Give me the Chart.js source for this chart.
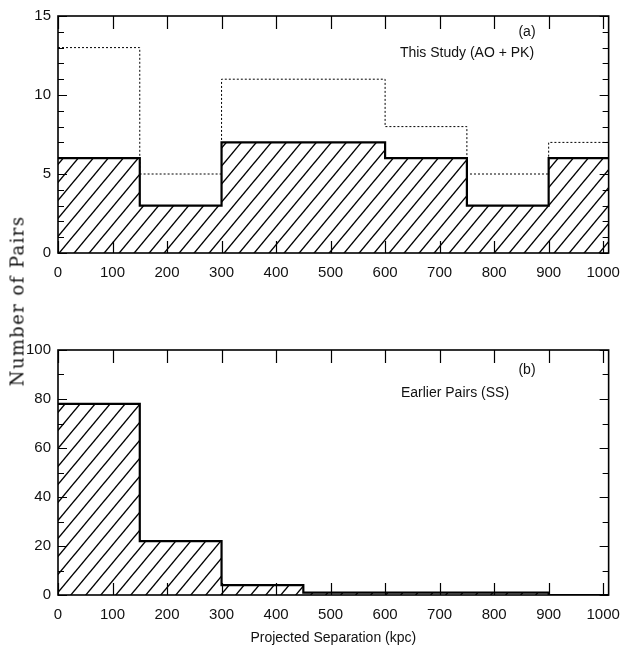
<!DOCTYPE html>
<html>
<head>
<meta charset="utf-8">
<script src="https://cdn.jsdelivr.net/npm/chart.js@4.4.1/dist/chart.umd.min.js"></script>
<style>
  html, body { margin: 0; padding: 0; background: #fff; width: 631px; height: 650px; overflow: hidden; }
  #wrapA { position: absolute; left: 0; top: 0; width: 631px; height: 290px; }
  #wrapB { position: absolute; left: 0; top: 320px; width: 631px; height: 330px; }
  #ytitle { position: absolute; left: 17px; top: 301px; transform: translate(-50%, -50%) rotate(-90deg);
            font-family: "DejaVu Serif", serif; font-size: 18px; letter-spacing: 1.4px; white-space: nowrap; color: #111; }
</style>
</head>
<body>
<div id="wrapA"><canvas id="chartA" width="631" height="290"></canvas></div>
<div id="wrapB"><canvas id="chartB" width="631" height="330"></canvas></div>
<div id="ytitle">Number of Pairs</div>
<script>
// ---- data ----
const binEdges = [0, 150, 300, 450, 600, 750, 900, 1050];
const studySolid = [6, 3, 7, 7, 6, 3, 6];          // panel (a), hatched
const studyDotted = [13, 5, 11, 11, 8, 5, 7];      // panel (a), dotted
const earlierPairs = [78, 22, 4, 1, 1, 1, 0];      // panel (b), hatched
const xTicks = [0, 100, 200, 300, 400, 500, 600, 700, 800, 900, 1000];
const yTicksA = [0, 5, 10, 15];
const yTicksB = [0, 20, 40, 60, 80, 100];
const labelA = ["(a)", "This Study (AO + PK)"];
const labelB = ["(b)", "Earlier Pairs (SS)"];
const xTitle = "Projected Separation (kpc)";

function stepPoints(vals) {
  const pts = vals.map((v, i) => ({ x: binEdges[i], y: v }));
  pts.push({ x: binEdges[binEdges.length - 1], y: vals[vals.length - 1] });
  return pts;
}

function hatch() {
  const w = 15, h = 18;
  const c = document.createElement('canvas');
  c.width = w; c.height = h;
  const g = c.getContext('2d');
  g.strokeStyle = '#000';
  g.lineWidth = 1.4;
  for (let k = -1; k <= 1; k++) {
    g.beginPath();
    g.moveTo(-2, h + k * h + (2 * h / w));
    g.lineTo(w + 2, k * h - (2 * h / w));
    g.stroke();
  }
  return document.getElementById('chartA').getContext('2d').createPattern(c, 'repeat');
}
const pattern = hatch();

const FONT = { family: '"Liberation Sans", Arial, sans-serif', size: 15 };

function framePlugin(yMinorStep, yMajorStep, texts) {
  return {
    id: 'frame',
    afterDatasetsDraw(chart) {
      const { ctx, chartArea: a, scales } = chart;
      const xs = scales.x, ys = scales.y;
      ctx.save();
      ctx.strokeStyle = '#000';
      ctx.lineWidth = 1.2;
      xTicks.forEach(v => {
        const px = Math.round(xs.getPixelForValue(v)) + 0.5;
        ctx.beginPath();
        ctx.moveTo(px, a.bottom); ctx.lineTo(px, a.bottom - 12);
        ctx.moveTo(px, a.top); ctx.lineTo(px, a.top + 13);
        ctx.stroke();
      });
      for (let v = ys.min; v <= ys.max + 1e-9; v += yMinorStep) {
        const major = Math.abs(v / yMajorStep - Math.round(v / yMajorStep)) < 1e-6;
        const len = major ? 9 : 6;
        const py = Math.round(ys.getPixelForValue(v)) + 0.5;
        ctx.beginPath();
        ctx.moveTo(a.left, py); ctx.lineTo(a.left + len, py);
        ctx.moveTo(a.right, py); ctx.lineTo(a.right - len, py);
        ctx.stroke();
      }
      ctx.lineWidth = 1.6;
      ctx.strokeRect(a.left, a.top, a.right - a.left, a.bottom - a.top);
      ctx.fillStyle = '#111';
      ctx.font = '14px "Liberation Sans", Arial, sans-serif';
      ctx.textAlign = 'center';
      ctx.textBaseline = 'middle';
      texts.forEach(t => ctx.fillText(t.s, t.x, t.y));
      ctx.restore();
    }
  };
}

function makeChart(id, datasets, yMax, yTicks, yMinor, yMajor, padding, xAxisH, texts, withTitle) {
  return new Chart(document.getElementById(id), {
    type: 'line',
    data: { datasets },
    options: {
      responsive: false,
      animation: false,
      devicePixelRatio: 1,
      layout: { padding },
      plugins: { legend: { display: false }, tooltip: { enabled: false } },
      elements: { point: { radius: 0 } },
      scales: {
        x: {
          type: 'linear', min: 0, max: 1010,
          afterBuildTicks: s => { s.ticks = xTicks.map(v => ({ value: v })); },
          afterFit: s => { s.height = xAxisH; },
          grid: { display: false, drawTicks: false },
          border: { display: false },
          ticks: { color: '#111', font: FONT, padding: 11, maxRotation: 0, autoSkip: false, callback: v => String(v) },
          title: withTitle ? { display: true, text: xTitle, color: '#111', font: { family: FONT.family, size: 14 }, padding: { top: 0, bottom: 3 } } : { display: false }
        },
        y: {
          type: 'linear', min: 0, max: yMax,
          afterBuildTicks: s => { s.ticks = yTicks.map(v => ({ value: v })); },
          afterFit: s => { s.width = 58; },
          grid: { display: false, drawTicks: false },
          border: { display: false },
          ticks: { color: '#111', font: FONT, padding: 7, callback: v => String(v) }
        }
      }
    },
    plugins: [framePlugin(yMinor, yMajor, texts)]
  });
}

makeChart('chartA', [
  { data: stepPoints(studyDotted), stepped: 'before', borderColor: '#000', borderWidth: 1, borderDash: [2, 2], fill: false },
  { data: stepPoints(studySolid), stepped: 'before', borderColor: '#000', borderWidth: 2.2, backgroundColor: pattern, fill: 'origin' }
], 15, yTicksA, 1, 5, { left: 0, top: 10, right: 14, bottom: 0 }, 37,
  [{ s: labelA[0], x: 527, y: 32 }, { s: labelA[1], x: 467, y: 53 }], false);

makeChart('chartB', [
  { data: stepPoints(earlierPairs), stepped: 'before', borderColor: '#000', borderWidth: 2.2, backgroundColor: pattern, fill: 'origin' }
], 100, yTicksB, 10, 20, { left: 0, top: 30, right: 14, bottom: 0 }, 55,
  [{ s: labelB[0], x: 527, y: 50 }, { s: labelB[1], x: 455, y: 73 }], true);
</script>
</body>
</html>
